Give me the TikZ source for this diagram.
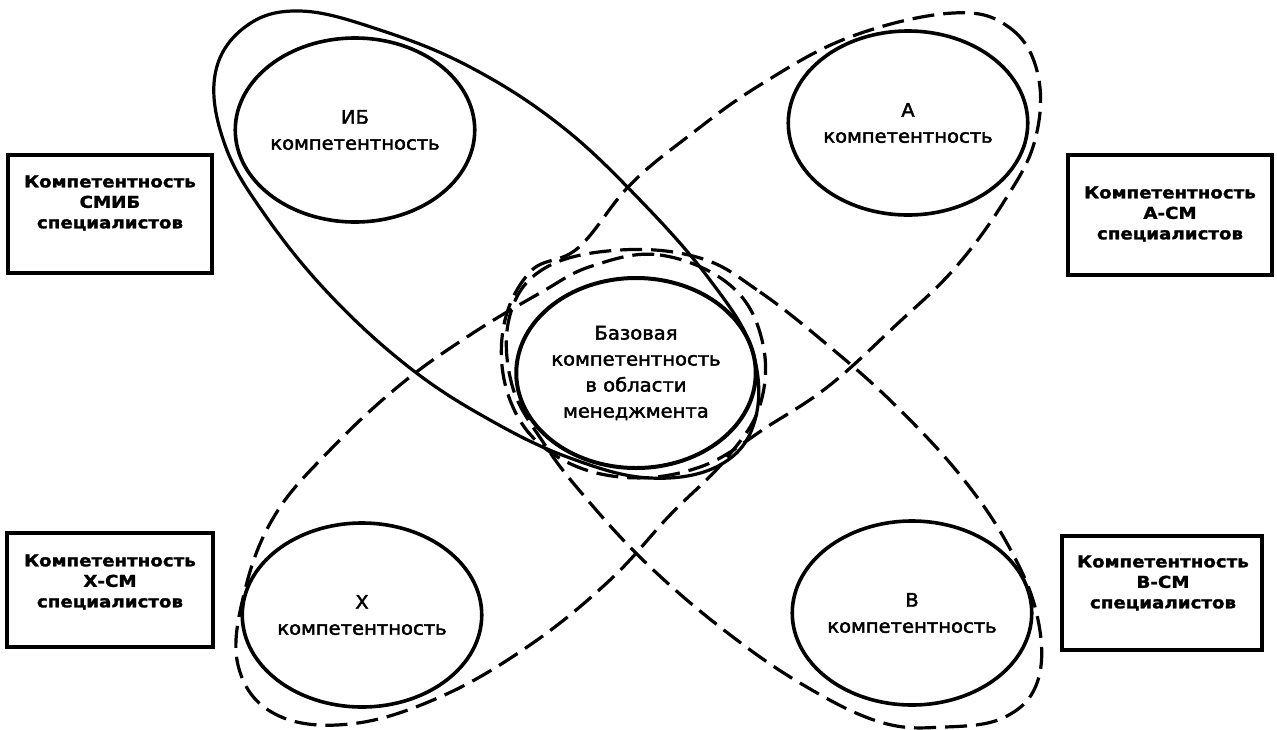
\documentclass[tikz,border=0pt]{standalone}
\usepackage{fontspec}
\usetikzlibrary{shapes.geometric}
\newfontfamily\elfont{DejaVu Sans}[FakeStretch=1.04, FakeBold=2.2]
\newfontfamily\bxfont{DejaVu Sans}[FakeStretch=1.12, FakeBold=1.6]
\begin{document}
\begin{tikzpicture}[x=1pt,y=-1pt,
  petal/.style={line width=3.2pt, line join=round},
  dashedpetal/.style={petal, dash pattern=on 22pt off 9pt},
  comp/.style={ellipse, draw, line width=3.6pt, inner sep=0pt, align=center,
    minimum width=226pt, minimum height=184pt,
    font=\elfont\fontsize{18.8}{26}\selectfont},
  boxshape/.style={draw, line width=3.5pt, inner sep=0pt},
  boxtext/.style={align=center, inner sep=0pt,
    font=\bxfont\bfseries\fontsize{16.3}{20.5}\selectfont}]
\useasboundingbox (0,0) rectangle (1277,729);
\fill[white] (0,0) rectangle (1277,729);

% petals
\draw[petal] plot[smooth cycle, tension=0.65] coordinates {
 (215,75) (245,27) (300,11) (380,30) (470,67) (560,125) (640,200)
 (710,280) (752,350) (755,420) (720,465) (650,478) (570,458) (490,420)
 (410,368) (330,295) (265,215) (225,145)};
\draw[dashedpetal] plot[smooth cycle, tension=0.65] coordinates {
 (953,13) (1010,28) (1038,75) (1035,140) (1005,200) (955,268) (895,326)
 (830,385) (770,425) (700,467) (620,477) (550,452) (510,400) (503,330)
 (530,272) (578,248) (630,185) (690,135) (760,85) (850,37)};
\draw[dashedpetal] plot[smooth cycle, tension=0.65] coordinates {
 (700,258) (760,292) (830,347) (895,405) (960,475) (1008,545) (1037,615)
 (1038,680) (1005,717) (945,727) (880,722) (800,683) (720,627) (645,562)
 (585,497) (545,445) (512,385) (510,315) (545,268) (620,250)};
\draw[dashedpetal] plot[smooth cycle, tension=0.65] coordinates {
 (592,266) (660,255) (730,285) (762,340) (760,405) (725,460) (670,515)
 (610,580) (530,645) (440,697) (350,724) (275,714) (238,665) (245,590)
 (275,515) (330,450) (400,385) (470,335) (540,293)};

% competence ellipses
\node[comp] (ib) at (355,130) {ИБ\\компетентность};
\node[comp] (a) at (908,123) {А\\компетентность};
\node[comp] (x) at (362,615) {Х\\компетентность};
\node[comp] (b) at (912,613) {В\\компетентность};
\node[comp, line width=4pt, minimum height=190pt] (base) at (636,373)
  {Базовая\\компетентность\\в области\\менеджмента};

% boxes
\node[boxshape, minimum width=204pt, minimum height=118pt] (b1) at (110,214) {};
\node[boxtext] (t1) at (110,203) {Компетентность\\СМИБ\\специалистов};
\node[boxshape, minimum width=204pt, minimum height=120pt] (b2) at (1170,215) {};
\node[boxtext] (t2) at (1170,214) {Компетентность\\А-СМ\\специалистов};
\node[boxshape, minimum width=206pt, minimum height=114pt] (b3) at (110,590) {};
\node[boxtext] (t3) at (110,582) {Компетентность\\Х-СМ\\специалистов};
\node[boxshape, minimum width=200pt, minimum height=114pt] (b4) at (1162,593) {};
\node[boxtext] (t4) at (1163,583) {Компетентность\\В-СМ\\специалистов};
\end{tikzpicture}
\end{document}
